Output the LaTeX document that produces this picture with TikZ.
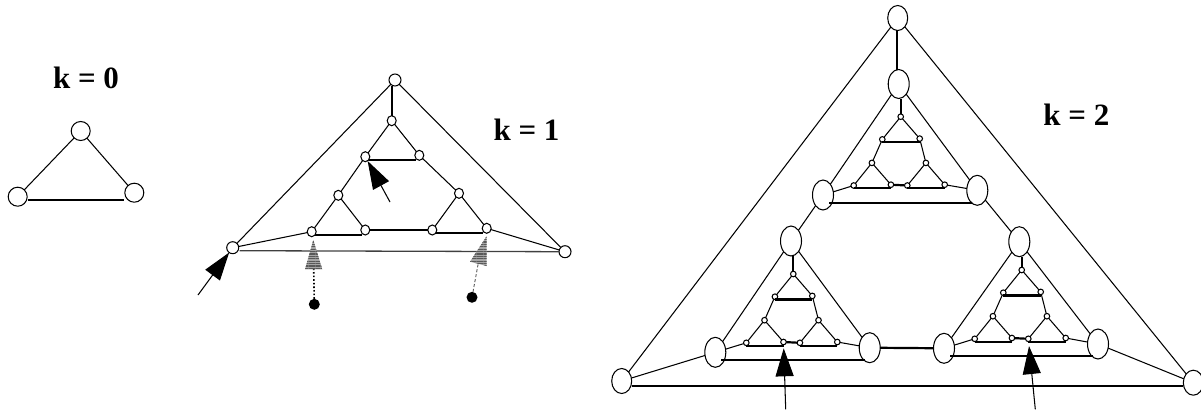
\documentclass[tikz,border=0pt]{standalone}
\usepackage{fontspec}
\setmainfont{Liberation Serif}
\usetikzlibrary{shapes.geometric,arrows.meta,patterns.meta}
\tikzset{
  thin edge/.style={line width=1.05pt},
  thick edge/.style={line width=2.2pt},
  vertex/.style={ellipse,draw,fill=white,line width=1.05pt,inner sep=0pt,outer sep=0pt},
  huge v/.style={vertex,minimum width=21pt,minimum height=30pt},
  corner v/.style={vertex,minimum width=20pt,minimum height=25pt},
  base v/.style={vertex,minimum width=19pt,minimum height=19pt},
  mid v/.style={vertex,minimum width=9pt,minimum height=10pt},
  end v/.style={vertex,minimum width=12pt,minimum height=12pt},
  tiny v/.style={vertex,minimum width=5.6pt,minimum height=5.6pt},
  dot v/.style={circle,fill=black,inner sep=0pt,outer sep=0pt,minimum size=11pt},
  blackarrow/.style={line width=1.05pt,-{Triangle[length=28pt,width=18pt]}},
  label k/.style={font=\fontsize{31}{31}\selectfont\bfseries,anchor=base,inner sep=0pt},
  gray stripes/.style={pattern={Lines[angle=0,distance=2.4pt,line width=1.2pt]},pattern color=black!65}
}
\newcommand{\gadget}[3]{%
  \begin{scope}[shift={(#2,#3)}]
    \node[tiny v] (#1t) at (0,0) {};
    \node[tiny v] (#1l) at (-18.4,22.7) {};
    \node[tiny v] (#1r) at (19,21.9) {};
    \node[tiny v] (#1ml) at (-28.8,46.2) {};
    \node[tiny v] (#1mr) at (25.2,46.2) {};
    \node[tiny v] (#1a) at (-47,68.8) {};
    \node[tiny v] (#1b) at (-9.8,68) {};
    \node[tiny v] (#1c) at (6.6,68.8) {};
    \node[tiny v] (#1d) at (44,68) {};
    \draw[thin edge] (#1t) -- (#1l);
    \draw[thin edge] (#1t) -- (#1r);
    \draw[thin edge] (#1l) -- (#1ml);
    \draw[thin edge] (#1r) -- (#1mr);
    \draw[thin edge] (#1ml) -- (#1a);
    \draw[thin edge] (#1ml) -- (#1b);
    \draw[thin edge] (#1mr) -- (#1c);
    \draw[thin edge] (#1mr) -- (#1d);
    \draw[thick edge] (#1l.south) -- (#1l.south -| #1r.south);
    \draw[thick edge] (#1a.south) -- (#1a.south -| #1b.south);
    \draw[thick edge] (#1b) -- (#1c);
    \draw[thick edge] (#1c.south) -- (#1c.south -| #1d.south);
  \end{scope}}
\begin{document}
\begin{tikzpicture}[x=1pt,y=-1pt]
\useasboundingbox (0,0) rectangle (1201,410);
% labels
\node[label k] (k0) at (86,88.3) {k = 0};
\node[label k] (k1) at (526.5,140) {k = 1};
\node[label k] (k2) at (1076.3,125.7) {k = 2};
% k = 0
\node[base v] (a0) at (80.7,131) {};
\node[base v] (a1) at (17.7,196.7) {};
\node[base v] (a2) at (134.3,192.7) {};
\draw[thin edge] (a0) -- (a1);
\draw[thin edge] (a0) -- (a2);
\draw[thick edge] ([shift={(10,3.3)}]a1.center) -- ([shift={(-10.3,7.3)}]a2.center);
% k = 1
\node[end v] (bt) at (395,80) {};
\node[end v] (bL) at (232.7,247.7) {};
\node[end v] (bR) at (565,251.7) {};
\node[mid v] (b0) at (391.7,120.7) {};
\node[mid v] (bl) at (365.3,156.7) {};
\node[mid v] (br) at (419.3,155.3) {};
\node[mid v] (bml) at (338.3,195.3) {};
\node[mid v] (bmr) at (459,193.3) {};
\node[mid v] (ba) at (311.7,231.7) {};
\node[mid v] (bb) at (365.3,230) {};
\node[mid v] (bc) at (432.3,230) {};
\node[mid v] (bd) at (486.7,228.3) {};
\draw[thin edge] (bt) -- (bL);
\draw[thin edge] (bt) -- (bR);
\draw[thin edge] (b0) -- (bl);
\draw[thin edge] (b0) -- (br);
\draw[thin edge] (bl) -- (bml);
\draw[thin edge] (br) -- (bmr);
\draw[thin edge] (bml) -- (ba);
\draw[thin edge] (bml) -- (bb);
\draw[thin edge] (bmr) -- (bc);
\draw[thin edge] (bmr) -- (bd);
\draw[thin edge] (bL) -- (ba);
\draw[thin edge] (bd) -- (bR);
\draw[line width=1.3pt,black!75] ([shift={(7,3)}]bL.center) -- ([shift={(-6,0)}]bR.center);
\draw[thick edge] (b0.north) -- (b0.north |- bt.south);
\draw[thick edge] ([shift={(3.5,3.3)}]bl.center) -- ([shift={(-3.5,4.7)}]br.center);
\draw[thick edge] ([shift={(3.5,3)}]ba.center) -- ([shift={(-3.5,4.7)}]bb.center);
\draw[thick edge] (bb) -- (bc);
\draw[thick edge] ([shift={(3.5,2.7)}]bc.center) -- ([shift={(-3.5,4.4)}]bd.center);
% k = 1 arrows
\coordinate (t1) at (390,202);
\coordinate (t2) at (198,295);
\draw[blackarrow] (t1) -- (bl);
\draw[blackarrow] (t2) -- (bL);
\node[dot v] (d1) at (314.3,304.3) {};
\node[dot v] (d2) at (472,297.3) {};
\coordinate (g1) at (313.7,268);
\coordinate (g2) at (478.3,263);
\draw[line width=1.6pt,dotted] (d1) -- (g1);
\draw[line width=0.9pt,black!65,densely dashed] (d2) -- (g2);
\fill[black!35] (313.3,240) -- (322.3,269.3) -- (305,269.3) -- cycle;
\fill[gray stripes] (313.3,240) -- (322.3,269.3) -- (305,269.3) -- cycle;
\fill[black!35] (486.7,236) -- (486.7,266) -- (470,261.7) -- cycle;
\fill[gray stripes] (486.7,236) -- (486.7,266) -- (470,261.7) -- cycle;
% k = 2 big vertices
\node[corner v] (ct) at (897.7,18) {};
\node[corner v] (cL) at (621.7,381) {};
\node[corner v] (cR) at (1193.3,382.7) {};
\node[huge v,minimum height=29pt] (u0) at (898.7,84) {};
\node[huge v] (uL) at (823,195) {};
\node[huge v] (uR) at (977.3,190.3) {};
\node[huge v] (v0) at (791,241) {};
\node[huge v] (vL) at (715.3,352.3) {};
\node[huge v] (vR) at (869.7,347.7) {};
\node[huge v] (w0) at (1019.3,241.7) {};
\node[huge v] (wL) at (944,348.3) {};
\node[huge v] (wR) at (1098,344) {};
% gadgets
\gadget{p}{900.7}{116.7}
\gadget{q}{793.3}{274}
\gadget{r}{1021.7}{270}
% k = 2 edges
\draw[thin edge] (ct) -- (cL);
\draw[thin edge] (ct) -- (cR);
\draw[thick edge] ([shift={(-1,12)}]ct.center) -- ([shift={(-2,-14)}]u0.center);
\draw[thin edge] (u0) -- (uL);
\draw[thin edge] (u0) -- (uR);
\draw[thick edge] (pt.north) -- (pt.north |- u0.south);
\draw[thin edge] (uL) -- (pa);
\draw[thin edge] (pd) -- (uR);
\draw[thick edge] ([shift={(6,7.7)}]uL.center) -- ([shift={(-5,12.4)}]uR.center);
\draw[thin edge] (uL) -- (v0);
\draw[thin edge] (uR) -- (w0);
\draw[thin edge] (v0) -- (vL);
\draw[thin edge] (v0) -- (vR);
\draw[thick edge] (qt.north) -- (qt.north |- v0.south);
\draw[thin edge] (vL) -- (qa);
\draw[thin edge] (qd) -- (vR);
\draw[thick edge] ([shift={(6,7.4)}]vL.center) -- ([shift={(-5,12)}]vR.center);
\draw[thin edge] (w0) -- (wL);
\draw[thin edge] (w0) -- (wR);
\draw[thick edge] (rt.north) -- (rt.north |- w0.south);
\draw[thin edge] (wL) -- (ra);
\draw[thin edge] (rd) -- (wR);
\draw[thick edge] ([shift={(6,7.7)}]wL.center) -- ([shift={(-5,12)}]wR.center);
\draw[thick edge] (vR) -- (wL);
\draw[thin edge] (cL) -- (vL);
\draw[thin edge] (wR) -- (cR);
\draw[thick edge] ([shift={(10,4.7)}]cL.center) -- ([shift={(-10,3)}]cR.center);
% k = 2 arrows
\coordinate (t3) at (785.7,409.3);
\coordinate (t4) at (1035.3,409.3);
\draw[blackarrow,shorten >=3.5pt] (t3) -- (qb);
\draw[blackarrow,shorten >=4.5pt] (t4) -- (rc);
\end{tikzpicture}
\end{document}
